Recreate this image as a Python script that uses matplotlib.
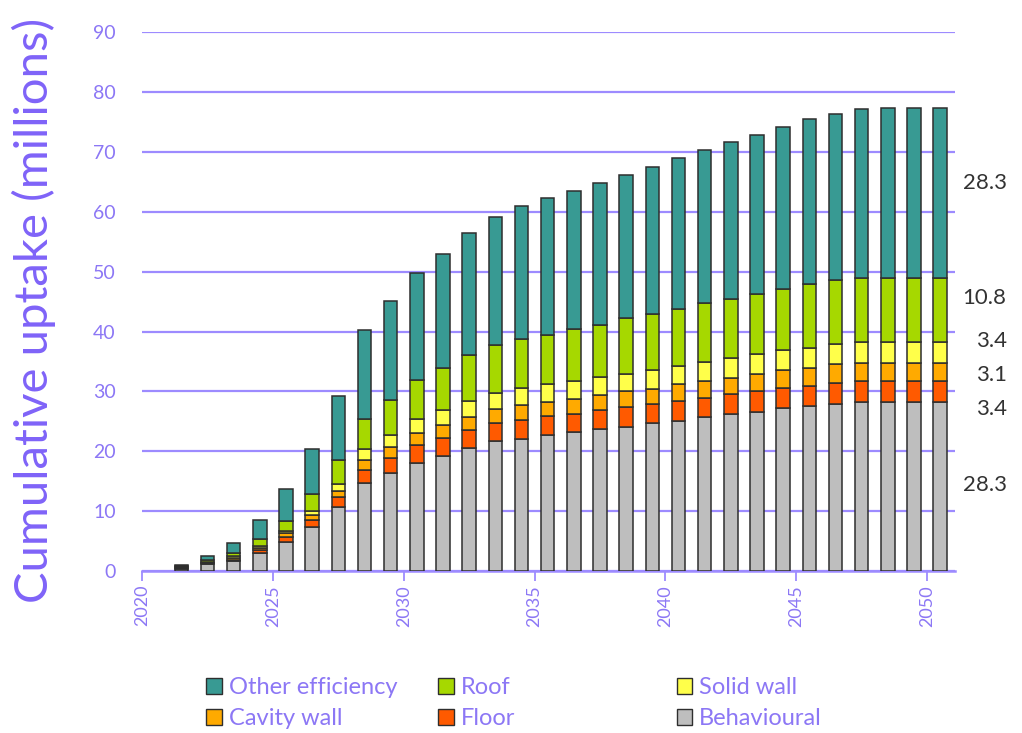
import matplotlib
matplotlib.use("Agg")
import matplotlib.pyplot as plt
import matplotlib.patches as mpatches
import numpy as np

plt.rcParams["font.family"] = ["Lato", "DejaVu Sans"]

# ── data: cumulative uptake (millions), 2021-2050 ───────────────────────────
years = list(range(2021, 2051))
behavioural = [0.4, 1.15, 1.6, 3.05, 4.85, 7.4, 10.75, 14.65, 16.4, 18.0,
               19.2, 20.6, 21.75, 22.1, 22.7, 23.15, 23.65, 24.1, 24.75, 25.1,
               25.65, 26.15, 26.6, 27.15, 27.6, 27.95, 28.3, 28.3, 28.3, 28.3]
floor = [0.1, 0.12, 0.3, 0.45, 0.78, 1.1, 1.55, 2.2, 2.4, 3.05,
         2.95, 2.95, 2.9, 3.2, 3.15, 3.15, 3.2, 3.25, 3.1, 3.35,
         3.3, 3.4, 3.45, 3.35, 3.35, 3.4, 3.4, 3.4, 3.4, 3.4]
cavity_wall = [0.1, 0.1, 0.25, 0.35, 0.67, 0.85, 1.1, 1.65, 1.85, 1.95,
               2.2, 2.2, 2.35, 2.35, 2.35, 2.5, 2.5, 2.7, 2.6, 2.75,
               2.8, 2.75, 2.9, 3.0, 3.0, 3.15, 3.1, 3.1, 3.1, 3.1]
solid_wall = [0.1, 0.1, 0.3, 0.35, 0.44, 0.7, 1.2, 1.9, 2.15, 2.4,
              2.5, 2.6, 2.75, 2.9, 3.0, 2.95, 3.05, 2.85, 3.05, 3.1,
              3.2, 3.35, 3.35, 3.35, 3.35, 3.35, 3.4, 3.4, 3.4, 3.4]
roof = [0.1, 0.35, 0.5, 1.2, 1.62, 2.8, 3.9, 5.0, 5.75, 6.5,
        7.05, 7.7, 7.95, 8.25, 8.3, 8.6, 8.75, 9.3, 9.35, 9.4,
        9.8, 9.8, 9.9, 10.2, 10.6, 10.75, 10.8, 10.8, 10.8, 10.8]
other_efficiency = [0.2, 0.7, 1.75, 3.2, 5.35, 7.5, 10.7, 14.85, 16.55, 17.9,
                    19.1, 20.35, 21.45, 22.15, 22.75, 23.1, 23.65, 23.9, 24.7, 25.25,
                    25.6, 26.15, 26.7, 27.2, 27.55, 27.75, 28.2, 28.3, 28.3, 28.3]

series_names = ["Behavioural", "Floor", "Cavity wall", "Solid wall", "Roof",
                "Other efficiency"]
series_vals = [behavioural, floor, cavity_wall, solid_wall, roof, other_efficiency]
series_cols = ["#BEBEBE", "#FF5A00", "#FFAA00", "#FFFF4A", "#A6D800", "#389A93"]

tick_years = [2020, 2025, 2030, 2035, 2040, 2045, 2050]

# vertical spots for the 2050 breakdown on the right (spread out so they don't collide)
end_label_y = [14.4, 27.0, 32.7, 38.4, 45.6, 64.8]

PURPLE_GRID = "#9D8BFF"
PURPLE_TXT = "#8C77F5"
PURPLE_TITLE = "#7F63F8"

fig = plt.figure(figsize=(10.22, 7.33), dpi=100)
ax = fig.add_axes([0.139, 0.221, 0.795, 0.735])

x = np.array(years)
bottom = np.zeros(len(years))
for name, vals, col in zip(series_names, series_vals, series_cols):
    vals = np.array(vals)
    ax.bar(x, vals, width=0.52, bottom=bottom, color=col,
           edgecolor="#2E2E2E", linewidth=1.1, zorder=3)
    bottom += vals

ax.set_xlim(2019.5, 2050.55)
ax.set_ylim(0, 90)
ax.set_yticks(range(0, 91, 10))
ax.yaxis.grid(True, color=PURPLE_GRID, linewidth=1.6, zorder=0)
ax.set_axisbelow(True)
ax.tick_params(axis="y", length=0, pad=19, labelsize=14, labelcolor=PURPLE_TXT)

ax.set_xticks([t - 0.5 for t in tick_years])
ax.set_xticklabels([str(t) for t in tick_years], rotation=90)
ax.tick_params(axis="x", length=7, width=1.3, color=PURPLE_GRID, pad=3,
               labelsize=13, labelcolor=PURPLE_TXT)

for side in ("top", "right", "left"):
    ax.spines[side].set_visible(False)
ax.spines["bottom"].set_color(PURPLE_GRID)
ax.spines["bottom"].set_linewidth(1.8)

fig.text(0.033, 0.577, "Cumulative uptake (millions)", rotation=90,
         ha="center", va="center", fontsize=34, color=PURPLE_TITLE)

# 2050 breakdown to the right of the last bar
for vals, ly in zip(series_vals, end_label_y):
    ax.text(1.064, ly, f"{vals[-1]:.1f}", transform=ax.get_yaxis_transform(),
            ha="right", va="center", fontsize=16, color="#333333")

# legend laid out as three separate columns
legend_cols = [("Other efficiency", "Cavity wall"),
               ("Roof", "Floor"),
               ("Solid wall", "Behavioural")]
legend_x = [0.202, 0.429, 0.662]
for cx, names in zip(legend_x, legend_cols):
    hs = [mpatches.Patch(facecolor=series_cols[series_names.index(n)],
                         edgecolor="#2E2E2E", linewidth=1.0) for n in names]
    fig.legend(hs, names, loc="upper left", bbox_to_anchor=(cx, 0.076),
               frameon=False, fontsize=17, labelcolor=PURPLE_TXT,
               handlelength=0.65, handleheight=0.65, handletextpad=0.3,
               labelspacing=0.42, borderpad=0, borderaxespad=0)

fig.savefig("out.png", dpi=100)
